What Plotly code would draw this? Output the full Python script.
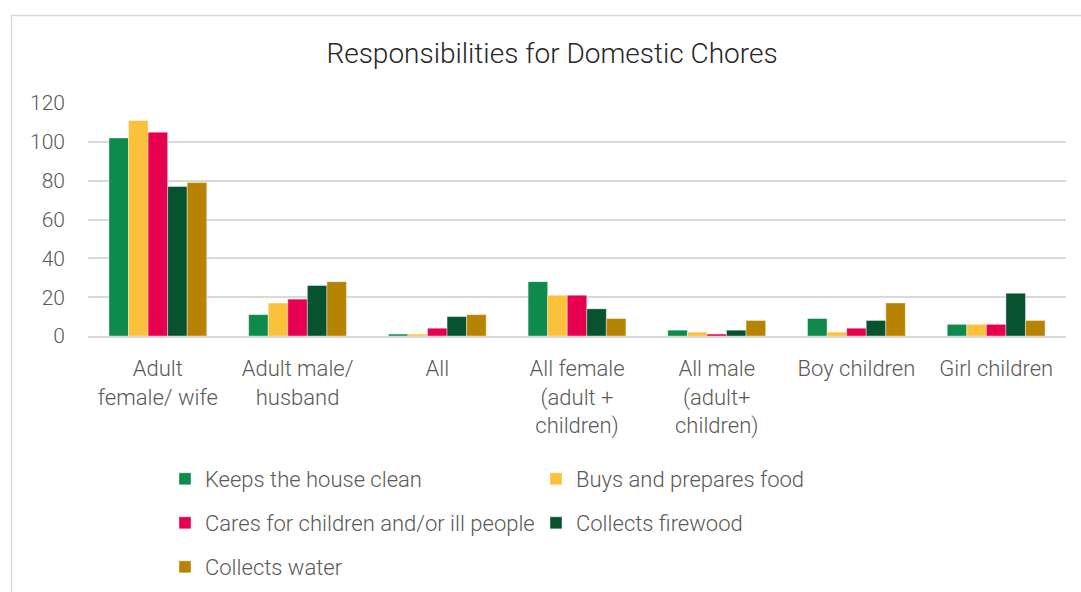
import plotly.graph_objects as go

categories = [
    "Adult<br>female/ wife",
    "Adult male/<br>husband",
    "All",
    "All female<br>(adult +<br>children)",
    "All male<br>(adult+<br>children)",
    "Boy children",
    "Girl children",
]

keeps_house_clean = [102, 11, 1, 28, 3, 9, 6]
buys_prepares_food = [111, 17, 1, 21, 2, 2, 6]
cares_for_children = [105, 19, 4, 21, 1, 4, 6]
collects_firewood = [77, 26, 10, 14, 3, 8, 22]
collects_water = [79, 28, 11, 9, 8, 17, 8]

series = [
    ("Keeps the house clean", keeps_house_clean, "#0E8A4B", "legend"),
    ("Buys and prepares food", buys_prepares_food, "#FBC13A", "legend"),
    ("Cares for children and/or ill people", cares_for_children, "#E6004F", "legend2"),
    ("Collects firewood", collects_firewood, "#07522F", "legend2"),
    ("Collects water", collects_water, "#B78303", "legend3"),
]

FONT = "Roboto"
GREY = "#595959"

fig = go.Figure()
for name, vals, color, leg in series:
    fig.add_trace(go.Bar(
        x=categories, y=vals, name=name,
        marker=dict(color=color, line=dict(color="rgba(255,255,255,0.5)", width=0.8)),
        legend=leg,
    ))

W, H = 1081, 592
L, R, T, B = 88, 15, 103, 256
pw, ph = W - L - R, H - T - B

def px_x(x):
    return (x - L) / pw

def px_y(y):
    return (H - B - y) / ph

legend_common = dict(
    orientation="h", xanchor="left", yanchor="middle",
    font=dict(family=FONT, size=22, color=GREY, weight=300),
    entrywidth=326, entrywidthmode="pixels", itemwidth=30,
    bgcolor="rgba(0,0,0,0)",
)

fig.update_layout(
    width=W, height=H,
    margin=dict(l=L, r=R, t=T, b=B, autoexpand=False),
    paper_bgcolor="white", plot_bgcolor="white",
    barmode="group", bargap=0.3, bargroupgap=0,
    title=dict(
        text="Responsibilities for Domestic Chores",
        x=552 / W, xref="container", xanchor="center",
        y=1 - 53 / H, yanchor="middle",
        font=dict(family=FONT, size=28, color="#262626", weight=300),
    ),
    xaxis=dict(
        showline=True, linecolor="#D9D9D9", linewidth=1.5, automargin=False,
        ticks="", ticklabelstandoff=12,
        tickfont=dict(family=FONT, size=22, color=GREY, weight=300),
    ),
    yaxis=dict(
        range=[0, 120], dtick=20, showgrid=True, gridcolor="#D9D9D9", gridwidth=1.5,
        zeroline=False, ticks="", ticklabelstandoff=22, automargin=False,
        tickfont=dict(family=FONT, size=21, color=GREY, weight=300),
    ),
    legend=dict(x=px_x(165), y=px_y(479), **legend_common),
    legend2=dict(x=px_x(165), y=px_y(523), **legend_common),
    legend3=dict(x=px_x(165), y=px_y(567), **legend_common),
    shapes=[dict(
        type="rect", xref="paper", yref="paper",
        x0=px_x(11.5), x1=px_x(W + 40), y0=px_y(H + 40), y1=px_y(15.5),
        line=dict(color="#D9D9D9", width=1.5), fillcolor="rgba(0,0,0,0)", layer="below",
    )],
)

fig.write_html("out.html")
